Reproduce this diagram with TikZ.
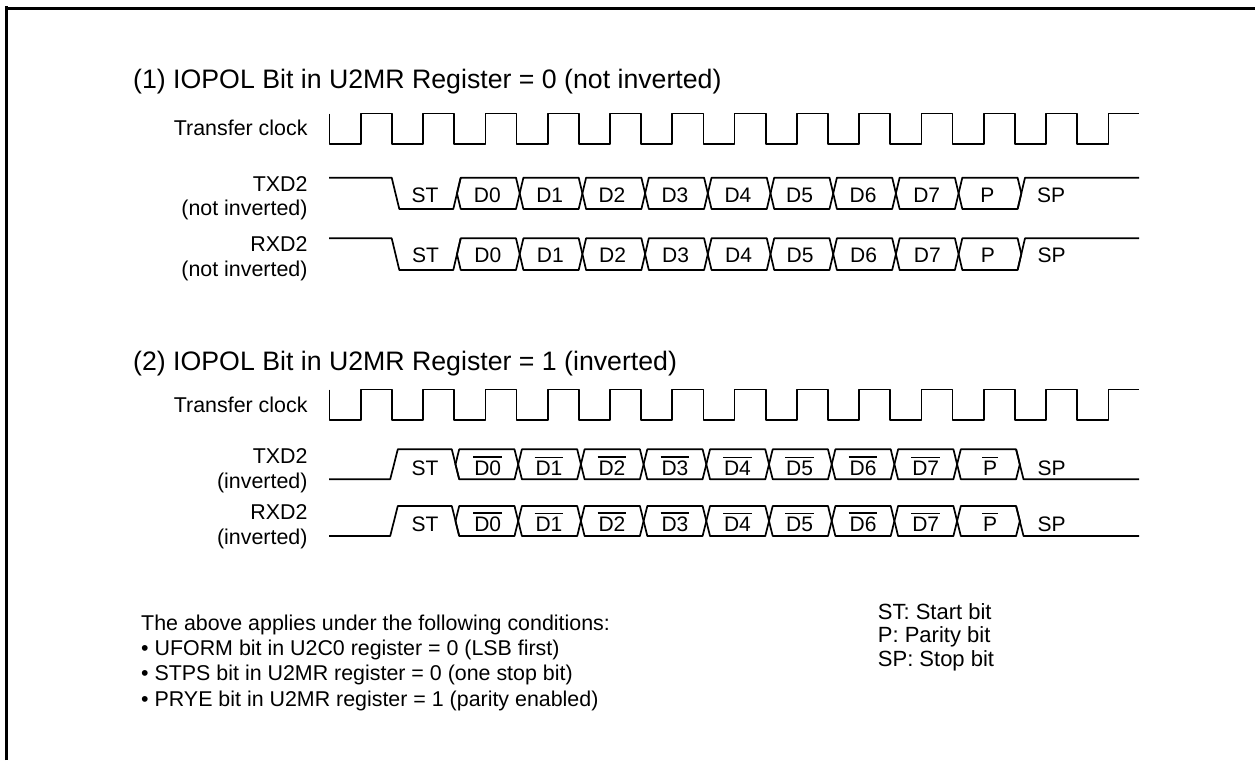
\documentclass[tikz,border=0pt]{standalone}
\usepackage{fontspec}
\setmainfont{Liberation Sans}
\usetikzlibrary{calc}

\newcommand{\barred}[1]{\setbox0\hbox{\kern1pt #1\kern1pt}\vbox{\hrule height 1.4pt \kern 2.6pt\box0}}
% one serial frame: idle level, active level, shift of the edges
\newcommand{\framerow}[3]{
  \draw[signal] (329,#1) -- ({391.7+#3},#1) -- ({399.3+#3},#2) -- ({453.3+#3},#2) -- ({460.7+#3},#1);
  \foreach \k in {0,...,8}
    \draw[signal] ({457+#3+62.7*\k},{(#1+#2)/2}) -- ({460.7+#3+62.7*\k},#1) -- ({516+#3+62.7*\k},#1) -- ({519.7+#3+62.7*\k},{(#1+#2)/2}) -- ({516+#3+62.7*\k},#2) -- ({460.7+#3+62.7*\k},#2) -- cycle;
  \draw[signal] ({1017.6+#3},#2) -- ({1025+#3},#1) -- (1139,#1);
}
\newcommand{\clockrow}[2]{
  \draw[signal] (329.6,#1) -- (329.6,#2)
    \foreach \k in {0,...,11} { -- ({329.6+62.3*\k+31.15},#2) -- ({329.6+62.3*\k+31.15},#1) -- ({329.6+62.3*\k+62.3},#1) -- ({329.6+62.3*\k+62.3},#2) }
    -- ({329.6+62.3*12+31.15},#2) -- ({329.6+62.3*12+31.15},#1) -- (1139,#1);
}

\begin{document}
\begin{tikzpicture}[
    x=1pt,y=-1pt,
    signal/.style={draw, line width=1.7pt, line join=round},
    frameline/.style={draw, line width=3pt},
    title/.style={font=\fontsize{26.7}{30}\selectfont, anchor=base west, inner sep=0},
    side/.style={font=\fontsize{21.4}{24.5}\selectfont, anchor=base east, align=right, inner sep=0},
    bit/.style={font=\fontsize{21}{24}\selectfont, anchor=base, inner sep=0},
    note/.style={font=\fontsize{21.4}{25.3}\selectfont, anchor=base west, align=left, inner sep=0},
    key/.style={font=\fontsize{22}{23.4}\selectfont, anchor=base west, align=left, inner sep=0}
  ]
  \useasboundingbox (0,0) rectangle (1255,760);
  \draw[frameline] (6.3,760) -- (6.3,6);
  \draw[frameline] (5,8.5) -- (1255,8.5);

  \node[title] (head1) at (133,88.3) {(1) IOPOL Bit in U2MR Register = 0 (not inverted)};
  \node[side] (clk1) at (307.7,135.7) {Transfer clock};
  \node[side] (tx1) at (307.7,215.7) {TXD2\\(not inverted)};
  \node[side] (rx1) at (307.7,276) {RXD2\\(not inverted)};
  \clockrow{113.5}{144}
  \framerow{177.7}{209}{0}
  \framerow{238.3}{270}{0}
  \foreach \lbl/\x in {ST/425,D0/487.3,D1/549.7,D2/612,D3/675,D4/738,D5/799.5,D6/863,D7/926.7,P/987.3,SP/1051} {
    \node[bit] (tx1-\lbl) at (\x,202.3) {\lbl};
    \node[bit] (rx1-\lbl) at (\x+0.6,262.7) {\lbl};
  }

  \node[title] (head2) at (133,370) {(2) IOPOL Bit in U2MR Register = 1 (inverted)};
  \node[side] (clk2) at (307.7,412) {Transfer clock};
  \node[side] (tx2) at (307.7,488) {TXD2\\(inverted)};
  \node[side] (rx2) at (307.7,544) {RXD2\\(inverted)};
  \clockrow{389.5}{420}
  \framerow{479.3}{449.3}{-1.5}
  \framerow{536}{506}{-1.5}
  \foreach \lbl/\x in {D0/487.7,D1/549,D2/612,D3/675,D4/737.5,D5/799.5,D6/863,D7/925.7,P/990} {
    \node[bit] (tx2-\lbl) at (\x,475) {\barred{\lbl}};
    \node[bit] (rx2-\lbl) at (\x,531) {\barred{\lbl}};
  }
  \foreach \lbl/\x in {ST/425,SP/1051.7} {
    \node[bit] (tx2-\lbl) at (\x,475) {\lbl};
    \node[bit] (rx2-\lbl) at (\x,531) {\lbl};
  }

  \node[note] (conditions) at (141,706) {The above applies under the following conditions:\\
    \textbullet\ UFORM bit in U2C0 register = 0 (LSB first)\\
    \textbullet\ STPS bit in U2MR register = 0 (one stop bit)\\
    \textbullet\ PRYE bit in U2MR register = 1 (parity enabled)};
  \node[key] (legend) at (877.7,666) {ST: Start bit\\P: Parity bit\\SP: Stop bit};
\end{tikzpicture}
\end{document}
